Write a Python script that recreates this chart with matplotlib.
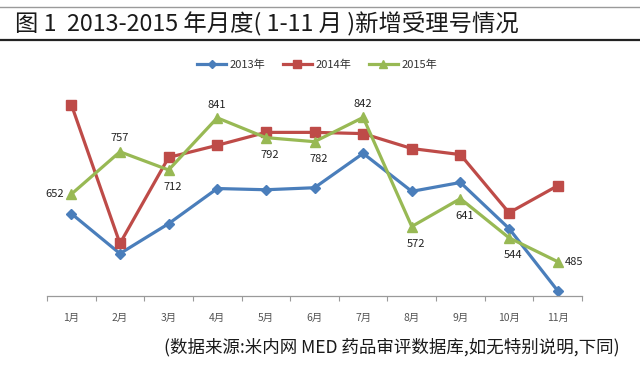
import matplotlib
matplotlib.use('Agg')
import matplotlib.pyplot as plt
from matplotlib.lines import Line2D

plt.rcParams['font.family'] = ['Noto Sans CJK SC', 'DejaVu Sans']

# data (monthly new application numbers)
months = ['1月', '2月', '3月', '4月', '5月', '6月', '7月', '8月', '9月', '10月', '11月']
y2013 = [604, 505, 579, 666, 663, 668, 753, 659, 681, 567, 413]
y2014 = [874, 530, 743, 773, 805, 805, 802, 765, 750, 606, 673]
y2015 = [652, 757, 712, 841, 792, 782, 842, 572, 641, 544, 485]
series_names = ['2013年', '2014年', '2015年']

# where each 2015 value label sits: left, top, bottom, right
label_pos = ['l', 't', 'b', 't', 'b', 'b', 't', 'b', 'b', 'b', 'r']

fig = plt.figure(figsize=(6.4, 3.7), dpi=100)
fig.patch.set_facecolor('white')

# title block with rules above and below
fig.add_artist(Line2D([0, 1], [1 - 7 / 370, 1 - 7 / 370], color='#9a9a9a', lw=1))
fig.add_artist(Line2D([0, 1], [1 - 40 / 370, 1 - 40 / 370], color='#222222', lw=1.6))
fig.text(15 / 640, 1 - 24 / 370, '图 1  2013-2015 年月度( 1-11 月 )新增受理号情况',
         fontsize=16.8, va='center', ha='left', color='#1a1a1a')

ax = fig.add_axes([47 / 640, 74 / 370, 535 / 640, 202 / 370])
x = list(range(len(months)))

ax.plot(x, y2013, color='#4A7EBB', lw=2.3, marker='D', ms=5.5, label=series_names[0])
ax.plot(x, y2014, color='#BE4B48', lw=2.3, marker='s', ms=7, label=series_names[1])
ax.plot(x, y2015, color='#98B954', lw=2.3, marker='^', ms=7.5, label=series_names[2])

for xi, v, pos in zip(x, y2015, label_pos):
    if pos == 't':
        ax.annotate(str(v), (xi, v), xytext=(0, 6), textcoords='offset points',
                    ha='center', va='bottom', fontsize=8, color='#222222')
    elif pos == 'b':
        ax.annotate(str(v), (xi, v), xytext=(3, -9), textcoords='offset points',
                    ha='center', va='top', fontsize=8, color='#222222')
    elif pos == 'l':
        ax.annotate(str(v), (xi, v), xytext=(-5, 0), textcoords='offset points',
                    ha='right', va='center', fontsize=8, color='#222222')
    else:
        ax.annotate(str(v), (xi, v), xytext=(5, 0), textcoords='offset points',
                    ha='left', va='center', fontsize=8, color='#222222')

ax.set_xlim(-0.5, len(months) - 0.5)
ax.set_ylim(400, 900)
ax.set_yticks([])
for s in ['top', 'right', 'left']:
    ax.spines[s].set_visible(False)
ax.spines['bottom'].set_color('#9a9a9a')
ax.spines['bottom'].set_linewidth(0.9)

ax.set_xticks([i - 0.5 for i in range(len(months) + 1)])
ax.set_xticklabels([])
ax.tick_params(axis='x', which='major', length=3.5, color='#9a9a9a', direction='out')
ax.set_xticks(x, minor=True)
ax.set_xticklabels(months, minor=True, fontsize=7.5, color='#555555')
ax.tick_params(axis='x', which='minor', length=0, pad=12)

fig.legend(loc='center', bbox_to_anchor=(317 / 640, 1 - 65 / 370), ncol=3,
           frameon=False, fontsize=8, handlelength=2.6, columnspacing=1.6,
           handletextpad=0.3, markerscale=0.75, labelcolor='#333333')

fig.text(620 / 640, 1 - 347 / 370, '(数据来源:米内网 MED 药品审评数据库,如无特别说明,下同)',
         fontsize=12.6, ha='right', va='center', color='#1a1a1a')

fig.savefig('out.png', dpi=100, facecolor='white')
